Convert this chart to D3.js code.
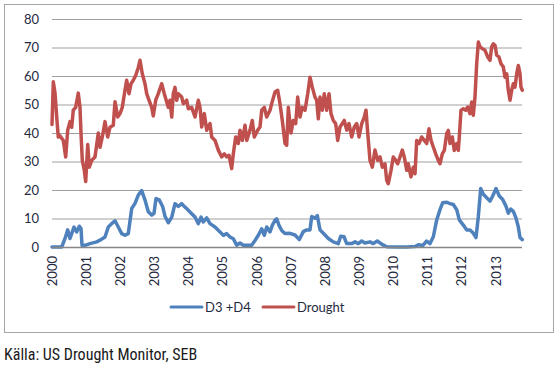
<html>
<head>
<meta charset="utf-8">
<script src="https://d3js.org/d3.v7.min.js"></script>
<style>
  body { margin: 0; background: #fff; }
  text { font-family: Lato, "Open Sans", sans-serif; }
</style>
</head>
<body>
<div id="chart"></div>
<script>
// time in years since the start of 2000
const yearLabels = ["2000","2001","2002","2003","2004","2005","2006","2007","2008","2009","2010","2011","2012","2013"];
const yTicks = [0, 10, 20, 30, 40, 50, 60, 70, 80];

const droughtT = [0,0.038,0.088,0.138,0.184,0.234,0.331,0.401,0.460,0.527,0.577,0.623,0.694,0.770,0.820,0.849,0.887,0.945,0.987,1.046,1.092,1.163,1.259,1.356,1.406,1.473,1.552,1.631,1.698,1.795,1.845,1.924,1.992,2.058,2.137,2.187,2.255,2.314,2.380,2.451,2.527,2.577,2.644,2.723,2.773,2.840,2.920,2.966,3.037,3.113,3.212,3.288,3.405,3.455,3.506,3.552,3.602,3.651,3.699,3.798,3.845,3.945,3.991,4.090,4.188,4.284,4.334,4.384,4.460,4.530,4.627,4.676,4.774,4.870,4.969,5.046,5.116,5.183,5.262,5.309,5.379,5.456,5.505,5.573,5.652,5.702,5.798,5.865,5.924,6.024,6.091,6.141,6.217,6.287,6.384,6.433,6.530,6.609,6.676,6.744,6.823,6.872,6.920,6.999,7.066,7.136,7.194,7.262,7.329,7.409,7.488,7.555,7.622,7.701,7.751,7.798,7.848,7.915,7.973,8.044,8.112,8.170,8.237,8.307,8.366,8.434,8.501,8.559,8.630,8.697,8.776,8.852,8.923,8.990,9.069,9.145,9.195,9.245,9.312,9.380,9.458,9.537,9.605,9.672,9.751,9.801,9.847,9.927,9.994,10.065,10.123,10.191,10.258,10.316,10.387,10.433,10.512,10.580,10.630,10.679,10.747,10.826,10.902,10.972,11.039,11.098,11.166,11.236,11.312,11.361,11.429,11.488,11.558,11.605,11.655,11.722,11.780,11.851,11.898,11.927,11.977,12.044,12.114,12.173,12.240,12.290,12.337,12.386,12.436,12.484,12.533,12.601,12.680,12.758,12.826,12.875,12.923,12.972,13.022,13.089,13.148,13.215,13.265,13.315,13.362,13.412,13.461,13.509,13.558,13.608,13.654,13.704,13.733,13.772];
const droughtV = [43,58,54,45.6,38.6,39,37.4,31.6,41,44,42,48,49,54,49,40,30.4,27,23,36,28,30.4,31.6,40,35,38.6,44,38.6,42,42.7,51,45.6,46.8,49,55,58.5,53.8,57.3,58.5,60.2,63,65.5,60.8,57.3,53.8,51.5,49,46,51.5,53.8,57.3,53.8,49,51.5,45.6,53.8,56,51.5,53.8,52.6,50.3,51.5,48.5,49,45.6,51.5,49,42.1,46.8,41,43.3,38.6,37.4,34,31.6,32.7,31.6,32.2,27.5,32.7,38.6,36.3,41,37.4,42.7,37.4,41,44.4,38.6,41,42.1,48,49,45.6,48,50.3,54.4,55,50.3,44.4,36.3,35.7,49,40,44.4,43.3,52.6,45.6,49,48,53.8,59.6,56.1,52.6,51.5,45,52.6,48,53.8,48,53.8,46.8,44.4,43.3,37.4,42.1,43.3,44.4,41,43.3,38.6,42.1,43.3,38.6,43.3,45.6,48,40,30.4,28,34,30.4,31.6,28,29.2,23.4,22.2,26.9,31.6,30.4,29.2,31.6,34,31.6,26.9,29.2,24.6,28,25.7,37.4,36.3,38.6,37.4,36.3,41.5,37.4,35.1,32.7,30.4,29.2,32.7,33.9,39.8,40.9,36.3,38.6,33.9,36.3,33.9,38.6,48,48.5,48,49.1,46.8,50.9,46.2,52.6,64.3,71.9,70.2,69.6,69,66.7,65.5,70.2,71.3,70.8,67.3,66.7,64.3,63.2,59.6,60.8,55,51.5,55,57.3,56.1,60.8,63.7,60.8,56.1,55];

const d34T = [0,0.285,0.381,0.460,0.527,0.577,0.645,0.724,0.800,0.849,0.879,0.967,1.112,1.309,1.406,1.552,1.649,1.748,1.845,1.941,2.041,2.137,2.234,2.334,2.431,2.527,2.626,2.723,2.820,2.920,2.987,3.045,3.142,3.242,3.309,3.405,3.506,3.602,3.699,3.798,3.894,3.991,4.090,4.188,4.284,4.363,4.430,4.530,4.627,4.774,4.919,5.016,5.116,5.213,5.309,5.408,5.505,5.601,5.847,5.944,6.041,6.141,6.217,6.287,6.384,6.451,6.530,6.580,6.647,6.727,6.823,6.969,7.116,7.242,7.359,7.458,7.555,7.605,7.701,7.769,7.848,7.945,8.091,8.237,8.383,8.454,8.551,8.630,8.776,8.873,8.969,9.069,9.165,9.312,9.408,9.525,9.654,9.801,10.093,10.387,10.630,10.727,10.856,10.972,11.069,11.166,11.265,11.361,11.440,11.558,11.655,11.751,11.851,11.927,12.044,12.144,12.240,12.337,12.416,12.484,12.553,12.629,12.729,12.826,12.905,13.002,13.098,13.198,13.294,13.362,13.432,13.509,13.588,13.654,13.704,13.772];
const d34V = [0,0,3,6,3,4.7,7,5.3,7.3,6.5,0.6,0.6,1.2,1.8,2.4,3.5,7,8.2,9.2,7,4.7,4.1,4.7,13.5,15.3,18.2,19.8,16.5,12.4,11.2,11.8,17,16.5,14.1,10.8,8.5,10.5,15.2,14.2,15.2,14,12.9,11.7,10.5,8.2,10.5,8.8,10.2,8.2,7,5.3,4.1,4.7,3.5,2.9,0.6,1.4,0.6,0.6,2.3,4.1,6.4,4.1,7,5.3,7.6,9.4,9.9,7.6,5.8,4.7,4.8,4.2,2.6,5.4,6,6,10.7,10.1,11,6,4.8,3,1.8,1.2,3.8,3.6,1.2,1.2,1.8,1.2,2.1,1.4,1.8,1.2,2.1,1,0.1,0,0,0.2,0.8,0.5,2.1,1.2,3.6,9.5,13.1,15.5,15.7,15.2,14.9,13.1,9.5,7.7,6,6,4.8,3.3,10.7,20.5,18.5,17.3,16.1,17.9,20.5,17.9,16.7,14.3,11.9,13.3,12.5,10.1,7.1,3.3,2.6];

const series = [
  {name: "D3 +D4", color: "#4F81BD", t: d34T, v: d34V},
  {name: "Drought", color: "#C0504D", t: droughtT, v: droughtV}
];

const W = 560, H = 370;
const textColor = "#1f2a40";
const svg = d3.select("#chart").append("svg")
  .attr("width", W).attr("height", H);

// chart frame
svg.append("rect")
  .attr("x", 4.5).attr("y", 4.5)
  .attr("width", 549).attr("height", 328)
  .attr("fill", "none").attr("stroke", "#a6a6a6");

const x = d3.scaleLinear().domain([0, 13]).range([52, 52 + 13 * 34.15]);
const xGrid = [52, 522];
const y = d3.scaleLinear().domain([0, 80]).range([247, 19]);

// gridlines
svg.append("g").selectAll("line")
  .data(yTicks.filter(d => d > 0))
  .join("line")
    .attr("x1", xGrid[0]).attr("x2", xGrid[1])
    .attr("y1", d => y(d) + 0.5).attr("y2", d => y(d) + 0.5)
    .attr("stroke", "#a0a0a0").attr("stroke-width", 1);

// y labels
svg.append("g").selectAll("text")
  .data(yTicks)
  .join("text")
    .attr("x", 39)
    .attr("y", d => y(d))
    .attr("dy", "0.36em")
    .attr("text-anchor", "end")
    .attr("font-size", 13)
    .attr("fill", textColor)
    .text(d => d);

// lines
const line = d3.line()
  .x(d => x(d[0]))
  .y(d => y(d[1]));

series.forEach(s => {
  svg.append("path")
    .datum(d3.zip(s.t, s.v))
    .attr("fill", "none")
    .attr("stroke", s.color)
    .attr("stroke-width", 3.5)
    .attr("stroke-linejoin", "round")
    .attr("stroke-linecap", "round")
    .attr("d", line);
});

// x axis line
svg.append("line")
  .attr("x1", xGrid[0]).attr("x2", xGrid[1])
  .attr("y1", y(0) + 0.5).attr("y2", y(0) + 0.5)
  .attr("stroke", "#868686").attr("stroke-width", 1.5);

// x labels (rotated)
svg.append("g").selectAll("text")
  .data(yearLabels)
  .join("text")
    .attr("transform", (d, i) => `translate(${x(i)},256) rotate(-90)`)
    .attr("text-anchor", "end")
    .attr("dy", "0.36em")
    .attr("font-size", 13)
    .attr("fill", textColor)
    .text(d => d);

// legend
const legend = svg.append("g");
const legX = [171, 263];
series.forEach((s, i) => {
  legend.append("line")
    .attr("x1", legX[i]).attr("x2", legX[i] + 31)
    .attr("y1", 307).attr("y2", 307)
    .attr("stroke", s.color).attr("stroke-width", 3)
    .attr("stroke-linecap", "round");
  legend.append("text")
    .attr("x", legX[i] + 34)
    .attr("y", 307)
    .attr("dy", "0.36em")
    .attr("font-size", 13)
    .attr("fill", textColor)
    .text(s.name);
});

// source note
svg.append("text")
  .attr("x", 4).attr("y", 360)
  .attr("font-size", 16)
  .attr("fill", "#1a1a1a")
  .style("font-family", "'Liberation Sans Narrow', 'Roboto Condensed', 'Open Sans', sans-serif")
  .text("Källa: US Drought Monitor, SEB");
</script>
</body>
</html>
